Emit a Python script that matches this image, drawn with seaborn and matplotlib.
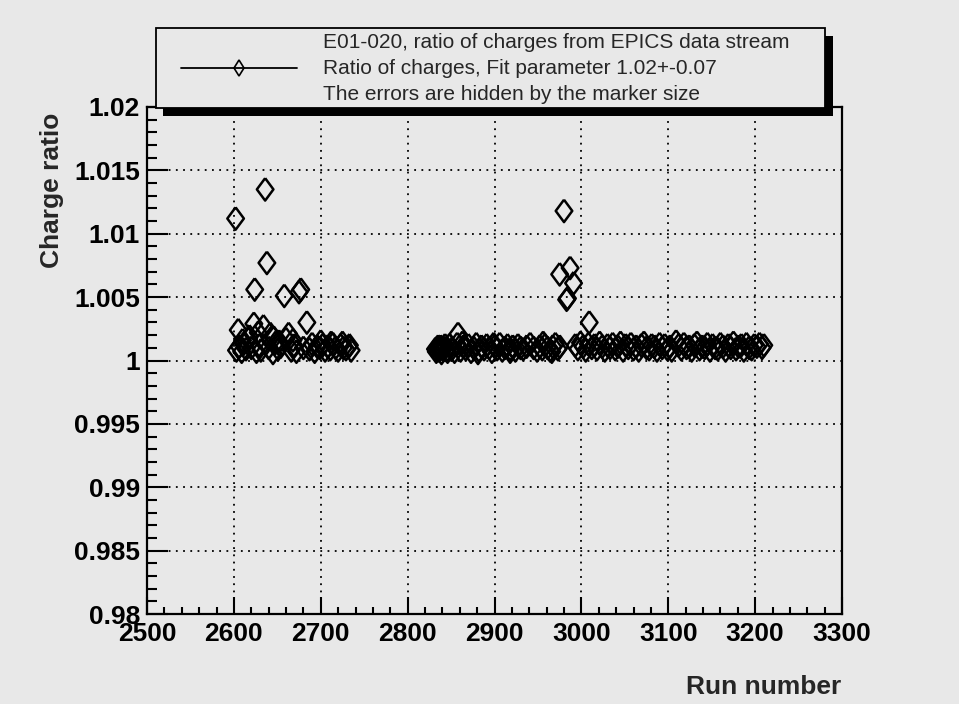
import numpy as np
import pandas as pd
import matplotlib
matplotlib.use("Agg")
import matplotlib.pyplot as plt
import seaborn as sns
from matplotlib.patches import Rectangle
from matplotlib.lines import Line2D
from matplotlib.ticker import MultipleLocator

# runs where the ratio sits near 1 (three blocks of runs)
runs_a = [2603, 2606, 2609, 2611, 2614, 2617, 2620, 2626, 2629, 2631,
          2640, 2645, 2648, 2651, 2654, 2660, 2666, 2669, 2672, 2680,
          2687, 2690, 2693, 2696, 2699, 2702, 2705, 2708, 2711, 2714,
          2717, 2720, 2723, 2726, 2729, 2732, 2735,
          2610, 2618, 2628, 2646, 2652, 2668, 2700, 2712, 2725, 2733]
ratio_a = [1.0008, 1.0011, 1.0007, 1.0013, 1.0009, 1.0017, 1.0010, 1.0007, 1.0012, 1.0008,
           1.0010, 1.0006, 1.0014, 1.0009, 1.0011, 1.0017, 1.0008, 1.0012, 1.0007, 1.0010,
           1.0009, 1.0013, 1.0007, 1.0011, 1.0010, 1.0012, 1.0008, 1.0011, 1.0009, 1.0013,
           1.0010, 1.0008, 1.0012, 1.0010, 1.0009, 1.0011, 1.0008,
           1.0016, 1.0019, 1.0022, 1.0018, 1.0015, 1.0016, 1.0015, 1.0014, 1.0014, 1.0012]

runs_b = [2832, 2834, 2836, 2838, 2840, 2842, 2845, 2848, 2851, 2854,
          2857, 2861, 2864, 2867, 2870, 2873, 2876, 2879, 2882, 2885,
          2888, 2891, 2894, 2897, 2900, 2903, 2906, 2909, 2912, 2915,
          2918, 2921, 2924, 2927, 2930, 2933, 2937, 2941, 2945, 2949,
          2952, 2955, 2958, 2961, 2964, 2967, 2970, 2973, 2975,
          2833, 2835, 2837, 2839, 2843, 2846, 2863, 2881, 2899, 2918, 2956, 2966]
ratio_b = [1.0009, 1.0010, 1.0008, 1.0011, 1.0009, 1.0010, 1.0008, 1.0012, 1.0009, 1.0007,
           1.0013, 1.0008, 1.0011, 1.0009, 1.0012, 1.0007, 1.0010, 1.0013, 1.0008, 1.0011,
           1.0009, 1.0012, 1.0010, 1.0007, 1.0011, 1.0009, 1.0013, 1.0008, 1.0010, 1.0012,
           1.0009, 1.0011, 1.0008, 1.0012, 1.0010, 1.0009, 1.0011, 1.0013, 1.0010, 1.0008,
           1.0011, 1.0009, 1.0012, 1.0010, 1.0008, 1.0011, 1.0013, 1.0009, 1.0011,
           1.0007, 1.0011, 1.0009, 1.0006, 1.0012, 1.0007, 1.0014, 1.0006, 1.0013, 1.0007, 1.0014, 1.0007]

runs_c = [2993, 2996, 2999, 3002, 3005, 3008, 3012, 3015, 3018, 3021,
          3024, 3027, 3030, 3033, 3036, 3039, 3042, 3045, 3048, 3051,
          3054, 3057, 3060, 3063, 3066, 3069, 3072, 3075, 3078, 3081,
          3084, 3087, 3090, 3093, 3096, 3099, 3102, 3104, 3109, 3112,
          3115, 3118, 3121, 3124, 3127, 3130, 3133, 3136, 3139, 3142,
          3145, 3148, 3151, 3154, 3157, 3160, 3163, 3166, 3169, 3172,
          3175, 3178, 3181, 3184, 3187, 3190, 3193, 3196, 3199, 3202,
          3205, 3208, 3210]
ratio_c = [1.0012, 1.0009, 1.0014, 1.0011, 1.0008, 1.0013, 1.0010, 1.0012, 1.0009, 1.0014,
           1.0011, 1.0008, 1.0012, 1.0010, 1.0013, 1.0009, 1.0011, 1.0014, 1.0008, 1.0012,
           1.0010, 1.0013, 1.0009, 1.0011, 1.0008, 1.0012, 1.0014, 1.0010, 1.0009, 1.0012,
           1.0011, 1.0008, 1.0013, 1.0010, 1.0012, 1.0009, 1.0011, 1.0008, 1.0015, 1.0012,
           1.0009, 1.0013, 1.0010, 1.0011, 1.0008, 1.0012, 1.0014, 1.0009, 1.0011, 1.0010,
           1.0013, 1.0008, 1.0012, 1.0010, 1.0009, 1.0013, 1.0011, 1.0008, 1.0012, 1.0010,
           1.0014, 1.0009, 1.0011, 1.0012, 1.0008, 1.0013, 1.0010, 1.0009, 1.0012, 1.0011,
           1.0013, 1.0010, 1.0012]

# runs with a clearly higher ratio
runs_high = [2602, 2605, 2623, 2624, 2634, 2636, 2638, 2642, 2658, 2663,
             2675, 2677, 2684, 2858, 2975, 2980, 2983, 2984, 2987, 2991, 3009]
ratio_high = [1.0112, 1.0024, 1.0029, 1.0056, 1.0027, 1.0135, 1.0077, 1.0021, 1.0051, 1.0021,
              1.0054, 1.0056, 1.0030, 1.0021, 1.0068, 1.0118, 1.0048, 1.0049, 1.0073, 1.0061, 1.0030]

df = pd.DataFrame({
    "Run": runs_a + runs_b + runs_c + runs_high,
    "Ratio": ratio_a + ratio_b + ratio_c + ratio_high,
})

bg = "#e8e8e8"
sns.set_style("ticks")
plt.rcParams["font.family"] = ["Liberation Sans", "DejaVu Sans"]

W, H = 959, 704
fig = plt.figure(figsize=(W / 100, H / 100), dpi=100, facecolor=bg)
ax = fig.add_axes([147 / W, 1 - 614 / H, (842 - 147) / W, (614 - 107) / H])
ax.set_facecolor(bg)

# open diamond, a bit wider than matplotlib's thin diamond
diamond = [(0, 1), (0.74, 0), (0, -1), (-0.74, 0), (0, 1)]
sns.scatterplot(data=df, x="Run", y="Ratio", marker=diamond, s=260, ax=ax,
                color="black", linewidth=1.8, zorder=3)
pts = ax.collections[-1]
pts.set_facecolor("none")
pts.set_edgecolor("black")

ax.set_xlim(2500, 3300)
ax.set_ylim(0.98, 1.02)
ax.xaxis.set_major_locator(MultipleLocator(100))
ax.xaxis.set_minor_locator(MultipleLocator(20))
ax.yaxis.set_minor_locator(MultipleLocator(0.001))
ax.set_yticks(np.arange(0.98, 1.0201, 0.005))
ax.set_yticklabels(["0.98", "0.985", "0.99", "0.995", "1", "1.005", "1.01", "1.015", "1.02"])

ax.tick_params(axis="both", which="both", direction="in", top=False, right=False,
               colors="black", width=1.5)
ax.tick_params(axis="y", which="major", length=15, pad=5)
ax.tick_params(axis="y", which="minor", length=7)
ax.tick_params(axis="x", which="major", length=12, pad=6)
ax.tick_params(axis="x", which="minor", length=5)
for lab in ax.get_xticklabels() + ax.get_yticklabels():
    lab.set_fontsize(19)
    lab.set_fontweight("bold")

ax.grid(True, which="major", color="black", linestyle=(0, (1, 3)), linewidth=1.3)
for sp in ax.spines.values():
    sp.set_visible(True)
    sp.set_linewidth(1.6)
    sp.set_color("black")
ax.set_xlabel("")
ax.set_ylabel("")

fig.text(52 / W, 1 - 113 / H, "Charge ratio", rotation=90, ha="center", va="top",
         fontsize=19, fontweight="bold")
fig.text(841 / W, 1 - 687 / H, "Run number", ha="right", va="center",
         fontsize=19, fontweight="bold")

# legend box with ROOT style shadow
def fx(px):
    return px / W

def fy(py):
    return 1 - py / H

fig.add_artist(Rectangle((fx(163), fy(116)), fx(833) - fx(163), fy(36) - fy(116),
                         transform=fig.transFigure, facecolor="black", edgecolor="none", zorder=5))
fig.add_artist(Rectangle((fx(156), fy(108)), fx(825) - fx(156), fy(28) - fy(108),
                         transform=fig.transFigure, facecolor=bg, edgecolor="black",
                         linewidth=1.3, zorder=6))
fig.add_artist(Line2D([fx(181), fx(297)], [fy(68), fy(68)], transform=fig.transFigure,
                      color="black", linewidth=1.3, zorder=7))
fig.add_artist(Line2D([fx(239)], [fy(68)], transform=fig.transFigure, marker="d",
                      markersize=8, markerfacecolor="none", markeredgecolor="black",
                      markeredgewidth=1.2, zorder=7))
legend_lines = ["E01-020, ratio of charges from EPICS data stream",
                "Ratio of charges, Fit parameter 1.02+-0.07",
                "The errors are hidden by the marker size"]
for txt, py in zip(legend_lines, [42, 68, 95]):
    fig.text(fx(323), fy(py), txt, ha="left", va="center", fontsize=15, zorder=8)

fig.savefig("out.png", dpi=100, facecolor=bg)
